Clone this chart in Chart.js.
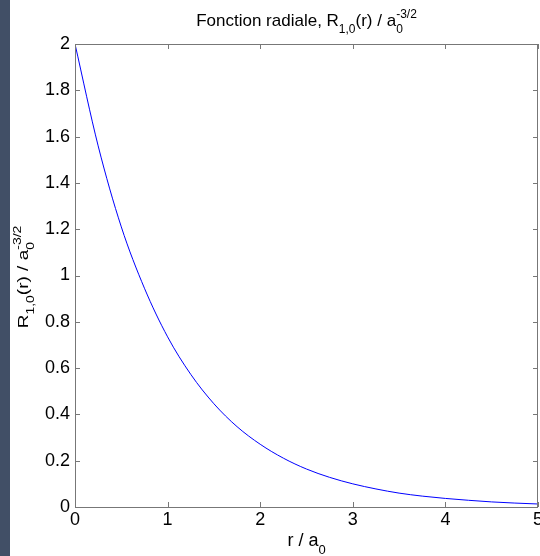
<!DOCTYPE html>
<html lang="fr">
<head>
<meta charset="UTF-8">
<title>Fonction radiale</title>
<script src="https://cdn.jsdelivr.net/npm/chart.js"></script>
<style>
    html, body { margin: 0; padding: 0; background: #fff; }
    .wrap { width: 540px; height: 556px; position: relative; }
</style>
</head>
<body>
<div class="wrap"><canvas id="chart" width="540" height="556"></canvas></div>
<script>
// valeurs
var rValues = [0, 0.25, 0.5, 0.75, 1, 1.25, 1.5, 1.75, 2, 2.25, 2.5, 2.75, 3, 3.25, 3.5, 3.75, 4, 4.25, 4.5, 4.75, 5];
var radial = [2.00, 1.56, 1.21, 0.945, 0.735, 0.573, 0.446, 0.347, 0.271, 0.211, 0.164, 0.128, 0.100, 0.078, 0.060, 0.047, 0.037, 0.029, 0.022, 0.017, 0.013];
var xTicks = [0, 1, 2, 3, 4, 5];
var yTicks = [0, 0.2, 0.4, 0.6, 0.8, 1, 1.2, 1.4, 1.6, 1.8, 2];
var xTickLabels = ['0', '1', '2', '3', '4', '5'];
var yTickLabels = ['0', '0.2', '0.4', '0.6', '0.8', '1', '1.2', '1.4', '1.6', '1.8', '2'];

var FONT = '"Liberation Sans", Arial, sans-serif';

// texte avec indices / exposants
function drawRich(ctx, parts, x, y, size) {
    var small = Math.round(size * 0.72);
    var w = 0, last = 0;
    parts.forEach(function (p) {
        ctx.font = (p.s === 'n' ? size : small) + 'px ' + FONT;
        var m = ctx.measureText(p.t).width;
        if (p.s === 'sup' && p.stack) { w = last + Math.max(w - last, m); }
        else { last = w; w += m; }
    });
    var cx = x - w / 2, prev = cx;
    ctx.textAlign = 'left';
    ctx.textBaseline = 'alphabetic';
    parts.forEach(function (p) {
        ctx.font = (p.s === 'n' ? size : small) + 'px ' + FONT;
        var m = ctx.measureText(p.t).width;
        var dy = p.s === 'sub' ? size * 0.42 : (p.s === 'sup' ? -size * 0.48 : 0);
        if (p.s === 'sup' && p.stack) {
            ctx.fillText(p.t, prev, y + dy);
        } else {
            ctx.fillText(p.t, cx, y + dy);
            prev = cx;
            cx += m;
        }
    });
}

var labelParts = [
    { t: 'R', s: 'n' }, { t: '1,0', s: 'sub' },
    { t: '(r) / a', s: 'n' }, { t: '0', s: 'sub' }, { t: '-3/2', s: 'sup', stack: true }
];

var frame = {
    id: 'frame',
    beforeDraw: function (chart) {
        var ctx = chart.ctx;
        ctx.save();
        ctx.fillStyle = '#fff';
        ctx.fillRect(0, 0, chart.width, chart.height);
        ctx.fillStyle = '#414f66';
        ctx.fillRect(0, 0, 10, chart.height);
        ctx.restore();
    },
    afterDraw: function (chart) {
        var ctx = chart.ctx, a = chart.chartArea;
        var xs = chart.scales.x, ys = chart.scales.y;
        ctx.save();
        ctx.strokeStyle = '#777';
        ctx.lineWidth = 1;
        ctx.strokeRect(Math.round(a.left) + 0.5, Math.round(a.top) + 0.5,
            Math.round(a.right - a.left) - 1, Math.round(a.bottom - a.top));
        // graduations vers l'intérieur
        ctx.beginPath();
        xTicks.forEach(function (v) {
            var px = Math.round(xs.getPixelForValue(v)) + 0.5;
            ctx.moveTo(px, a.bottom); ctx.lineTo(px, a.bottom - 5);
            ctx.moveTo(px, a.top); ctx.lineTo(px, a.top + 5);
        });
        yTicks.forEach(function (v) {
            var py = Math.round(ys.getPixelForValue(v)) + 0.5;
            ctx.moveTo(a.left, py); ctx.lineTo(a.left + 5, py);
            ctx.moveTo(a.right, py); ctx.lineTo(a.right - 5, py);
        });
        ctx.stroke();

        ctx.fillStyle = '#000';
        drawRich(ctx, [{ t: 'Fonction radiale, ', s: 'n' }].concat(labelParts),
            (a.left + a.right) / 2, 26, 17);

        drawRich(ctx, [{ t: 'r / a', s: 'n' }, { t: '0', s: 'sub' }],
            (a.left + a.right) / 2, 546, 18);

        ctx.translate(28, 277);
        ctx.rotate(-Math.PI / 2);
        ctx.scale(1, 0.75);
        drawRich(ctx, labelParts, 0, 0, 19);
        ctx.restore();
    }
};

var points = rValues.map(function (r, i) { return { x: r, y: radial[i] }; });

new Chart(document.getElementById('chart'), {
    type: 'line',
    data: {
        datasets: [{
            data: points,
            borderColor: '#0000ff',
            borderWidth: 1,
            pointRadius: 0,
            cubicInterpolationMode: 'monotone',
            fill: false
        }]
    },
    options: {
        responsive: false,
        animation: false,
        layout: { padding: { top: 44, right: 2, left: 0, bottom: 0 } },
        plugins: { legend: { display: false }, tooltip: { enabled: false } },
        scales: {
            x: {
                type: 'linear', min: 0, max: 5,
                afterBuildTicks: function (s) { s.ticks = xTicks.map(function (v) { return { value: v }; }); },
                afterFit: function (s) { s.height = 49; s.paddingLeft = 0; s.paddingRight = 0; },
                ticks: {
                    padding: 2, color: '#000', font: { family: FONT, size: 18 },
                    maxRotation: 0,
                    callback: function (v) { return xTickLabels[xTicks.indexOf(v)]; }
                },
                grid: { display: false, drawTicks: false },
                border: { display: false }
            },
            y: {
                type: 'linear', min: 0, max: 2,
                afterBuildTicks: function (s) { s.ticks = yTicks.map(function (v) { return { value: v }; }); },
                afterFit: function (s) { s.width = 75; s.paddingTop = 0; s.paddingBottom = 0; },
                ticks: {
                    padding: 5, color: '#000', font: { family: FONT, size: 18 },
                    callback: function (v) { return yTickLabels[yTicks.indexOf(v)]; }
                },
                grid: { display: false, drawTicks: false },
                border: { display: false }
            }
        }
    },
    plugins: [frame]
});
</script>
</body>
</html>
